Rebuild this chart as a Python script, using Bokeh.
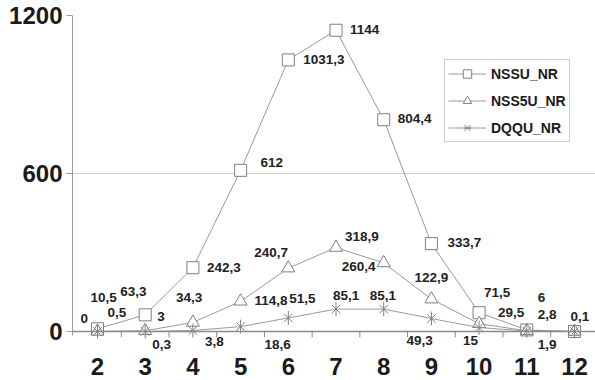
from bokeh.plotting import figure
from bokeh.models import (ColumnDataSource, FixedTicker, Span, LabelSet, Legend,
                          LegendItem, Range1d)
from bokeh.core.properties import value
from bokeh.embed import file_html
from bokeh.resources import INLINE

# ---- data -------------------------------------------------------------
months = [2, 3, 4, 5, 6, 7, 8, 9, 10, 11, 12]
nssu_nr = [10.5, 63.3, 242.3, 612, 1031.3, 1144, 804.4, 333.7, 71.5, 6, 0.1]
nss5u_nr = [0.5, 3, 34.3, 114.8, 240.7, 318.9, 260.4, 122.9, 29.5, 2.8, 0]
dqqu_nr = [0, 0.3, 3.8, 18.6, 51.5, 85.1, 85.1, 49.3, 15, 1.9, 0]
month_labels = [str(m) for m in months]
y_ticks = [0, 600, 1200]
series_names = ["NSSU_NR", "NSS5U_NR", "DQQU_NR"]
# which points carry a value label (the last two series are unlabeled at 12)
labeled = [
    [True] * 11,
    [True] * 10 + [False],
    [True] * 10 + [False],
]

# ---- label placement (screen pixels: dx to text start, dy downwards) --
label_dx = [
    [-7, -25, 14, 20, 15, 14, 14, 16, 5, 11, -4],
    [10, 12, -17, 14, -34, 9, -42, -17, 19, 11, 0],
    [-17, 7, 12, 24, 1, -3, -14, -25, -16, 11, 0],
]
label_dy = [
    [-31, -23, 0, -8, 0, -1, -1, -1, -20, -32, -15],
    [-19, -14, -25, -1, -16, -11, 4, -22, -11, -16, 0],
    [-13, 13, 11, 18, -19, -14, -14, 22, 13, 13, 0],
]

FONT = "Liberation Sans"
LINE = "#9a9a9a"
MARK = "#7f7f7f"
TXT = "#1a1a1a"

p = figure(width=595, height=380, output_backend="svg", toolbar_location=None,
           x_range=Range1d(1.476, 12.44), y_range=Range1d(-186, 1200),
           min_border_left=72, min_border_right=0, min_border_top=15,
           min_border_bottom=0)
p.outline_line_color = None
p.background_fill_color = "white"
p.border_fill_color = "white"

# x axis drawn manually (labels inside the frame so value labels are not clipped)
p.xaxis.visible = False

p.yaxis.ticker = FixedTicker(ticks=y_ticks)
p.yaxis.bounds = (-14, 1200)
p.yaxis.axis_line_color = LINE
p.yaxis.major_tick_line_color = LINE
p.yaxis.major_tick_in = 0
p.yaxis.major_tick_out = 6
p.yaxis.minor_tick_line_color = None
p.yaxis.major_label_text_font = FONT
p.yaxis.major_label_text_font_style = "bold"
p.yaxis.major_label_text_font_size = "24px"
p.yaxis.major_label_text_color = TXT
p.yaxis.major_label_standoff = 4

p.xgrid.grid_line_color = None
p.ygrid.ticker = FixedTicker(ticks=y_ticks[1:])
p.ygrid.grid_line_color = "#cfcfcf"

# zero line acting as the category axis, with boundary ticks and labels
p.add_layout(Span(location=0, dimension="width", line_color="#8a8a8a", line_width=1.5))
bounds = [m + 0.5 for m in months[:-1]]
p.segment(x0=bounds, y0=[0] * len(bounds), x1=bounds, y1=[-22] * len(bounds),
          line_color="#8a8a8a", line_width=1)
msrc = ColumnDataSource(dict(x=months, y=[0] * len(months), t=month_labels))
p.add_layout(LabelSet(x="x", y="y", text="t", source=msrc, y_offset=-35,
                      text_font=value(FONT), text_font_style=value("bold"),
                      text_font_size=value("24px"), text_color=value(TXT),
                      text_align=value("center"), text_baseline=value("middle")))

# ---- series ------------------------------------------------------------
series = [nssu_nr, nss5u_nr, dqqu_nr]
items = []
for i, vals in enumerate(series):
    src = ColumnDataSource(dict(x=months, y=vals))
    ln = p.line("x", "y", source=src, line_color=LINE, line_width=1)
    rends = [ln]
    if i == 0:
        rends.append(p.scatter("x", "y", source=src, marker="square", size=12,
                               fill_color="white", line_color=MARK, line_width=1))
    elif i == 1:
        rends.append(p.scatter("x", "y", source=src, marker="triangle", size=13,
                               fill_color="white", line_color=MARK, line_width=1))
    else:
        rends.append(p.scatter("x", "y", source=src, marker="x", size=12,
                               line_color=MARK, line_width=1))
        rends.append(p.scatter("x", "y", source=src, marker="dash", size=14, angle=1.5708,
                               line_color=MARK, line_width=1))
    items.append(LegendItem(label=series_names[i], renderers=rends))

    lx, ly, lt, ox, oy = [], [], [], [], []
    for j, v in enumerate(vals):
        if not labeled[i][j]:
            continue
        lx.append(months[j])
        ly.append(v)
        lt.append(f"{v:g}".replace(".", ","))
        ox.append(label_dx[i][j])
        oy.append(-label_dy[i][j])
    lsrc = ColumnDataSource(dict(x=lx, y=ly, t=lt, ox=ox, oy=oy))
    p.add_layout(LabelSet(x="x", y="y", text="t", source=lsrc, x_offset="ox", y_offset="oy",
                          text_font=value(FONT), text_font_style=value("bold"),
                          text_font_size=value("13.5px"), text_color=value("#222222"),
                          text_align=value("left"), text_baseline=value("middle")))

legend = Legend(items=items, location=(372, 238), margin=0, padding=3, spacing=6,
                label_height=21, label_width=0, glyph_height=21, glyph_width=38,
                label_standoff=5,
                label_text_font=FONT, label_text_font_style="bold",
                label_text_font_size="14px", label_text_color=TXT,
                border_line_color="#9a9a9a", border_line_width=1,
                background_fill_color="white", background_fill_alpha=1)
p.add_layout(legend)

open("out.html", "w").write(file_html(p, INLINE))
